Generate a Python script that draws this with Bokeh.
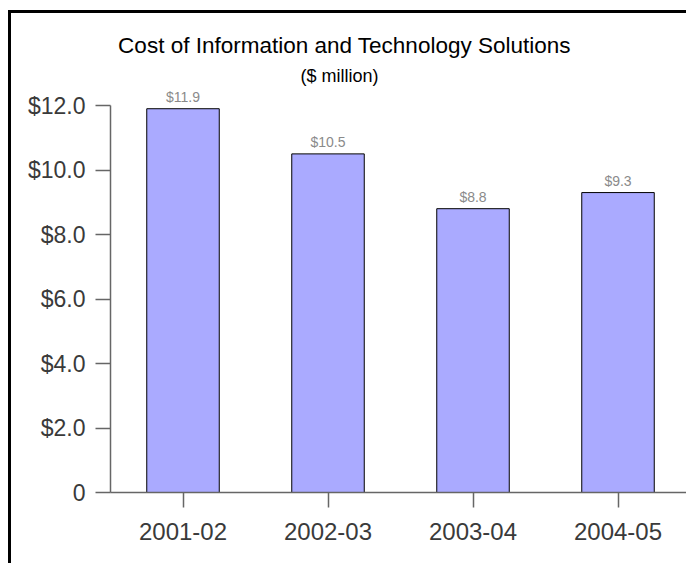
from bokeh.plotting import figure
from bokeh.layouts import column
from bokeh.models import Range1d, FixedTicker, Label, LabelSet, ColumnDataSource
from bokeh.core.properties import value
from bokeh.embed import file_html
from bokeh.resources import INLINE

categories = ["2001-02", "2002-03", "2003-04", "2004-05"]
costs = [11.9, 10.5, 8.8, 9.3]
cost_labels = ["$11.9", "$10.5", "$8.8", "$9.3"]
y_ticks = [0, 2, 4, 6, 8, 10, 12]
y_tick_labels = ["0", "$2.0", "$4.0", "$6.0", "$8.0", "$10.0", "$12.0"]
title_text = "Cost of Information and Technology Solutions"
subtitle_text = "($ million)"

FONT = "Liberation Sans"
positions = list(range(len(categories)))
src = ColumnDataSource(dict(x=positions, top=costs, label=cost_labels))

W = 675
H = 550
# frame bottom at 479 px from canvas top; 12 units span 387 px
Y_TOP = 12 * 479 / 387
X_END = -0.5 + (W - 99) / 145

p = figure(width=W, height=H, output_backend="svg", toolbar_location=None,
           x_range=Range1d(-0.5, X_END), y_range=Range1d(0, Y_TOP),
           min_border_left=99, min_border_right=0, min_border_top=0,
           min_border_bottom=H - 479)
p.outline_line_color = None
p.border_fill_color = "#ffffff"
p.background_fill_color = "#ffffff"
p.xgrid.visible = False
p.ygrid.visible = False

p.vbar(x="x", top="top", width=0.5, source=src, fill_color="#AAAAFF",
       line_color="black", line_width=1)

p.add_layout(LabelSet(x="x", y="top", text="label", source=src,
                      text_align="center", text_baseline="bottom", y_offset=4,
                      text_font=value(FONT), text_font_size="14px",
                      text_color="#8a8a8a"))

# axes
p.xaxis.ticker = FixedTicker(ticks=positions)
p.xaxis.major_label_overrides = {i: c for i, c in zip(positions, categories)}
p.yaxis.ticker = FixedTicker(ticks=y_ticks)
p.yaxis.major_label_overrides = {t: l for t, l in zip(y_ticks, y_tick_labels)}
p.yaxis.bounds = (0, 12)
for ax in (p.xaxis[0], p.yaxis[0]):
    ax.axis_line_color = "#666666"
    ax.axis_line_width = 1.5
    ax.major_tick_line_color = "#666666"
    ax.major_tick_line_width = 1.5
    ax.major_tick_out = 15
    ax.major_tick_in = 0
    ax.minor_tick_line_color = None
    ax.major_label_text_font = FONT
    ax.major_label_text_color = "#3a3a3a"
p.xaxis.major_label_text_font_size = "24px"
p.yaxis.major_label_text_font_size = "23px"
p.xaxis.major_label_standoff = 15
p.yaxis.major_label_standoff = 10

p.add_layout(Label(x=234, y=447, x_units="screen", y_units="screen",
                   text=title_text, text_align="center", text_baseline="alphabetic",
                   text_font=FONT, text_font_size="22.5px", text_color="black"))
p.add_layout(Label(x=229, y=417, x_units="screen", y_units="screen",
                   text=subtitle_text, text_align="center", text_baseline="alphabetic",
                   text_font=FONT, text_font_size="18px", text_color="black"))

layout = column(p, styles={"border-left": "3px solid black",
                           "border-top": "3px solid black",
                           "margin-top": "10px", "margin-left": "8px"})

open("out.html", "w").write(file_html(layout, INLINE))
